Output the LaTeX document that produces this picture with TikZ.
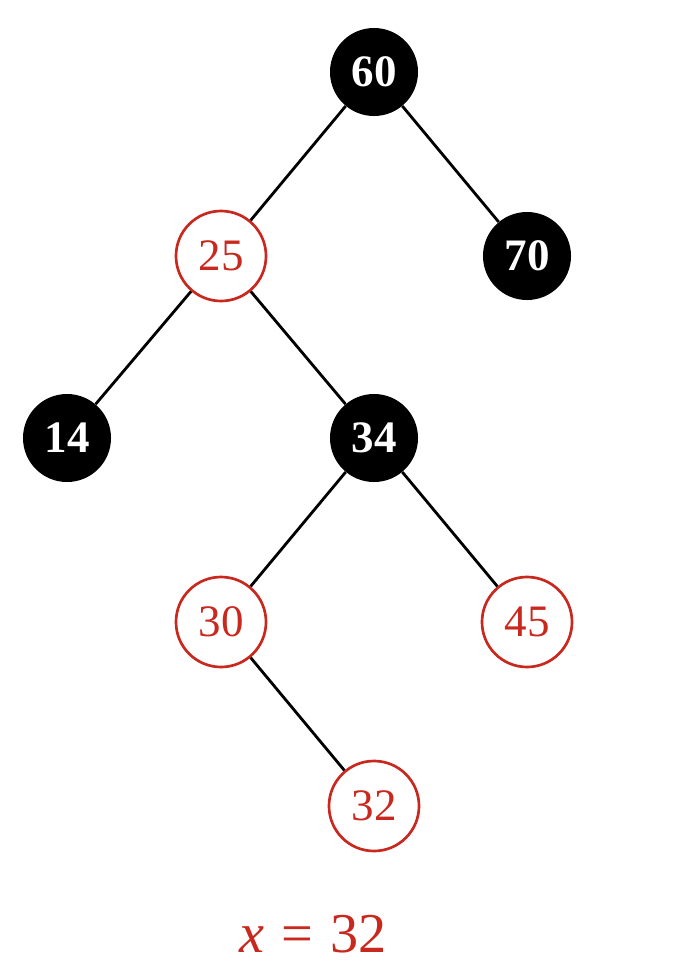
\documentclass[tikz,border=0pt]{standalone}
\usepackage{fontspec}
\setmainfont{Liberation Serif}
\usepackage{xcolor}
\usepackage{tikz}
\usetikzlibrary{positioning}
\definecolor{rbred}{RGB}{200,40,30}

\begin{document}
\begin{tikzpicture}[x=0.025cm, y=-0.025cm,
    blk/.style={circle, fill=black, text=white, minimum size=2.2cm, inner sep=0pt, font=\fontsize{32}{36}\selectfont\bfseries},
    red/.style={circle, draw=rbred, line width=1.9pt, text=rbred, minimum size=2.25cm, inner sep=0pt, font=\fontsize{32}{36}\selectfont},
    edge/.style={line width=2pt}]
        \useasboundingbox (0,0) rectangle (674,980);
        % Nodes
        \node[blk] (N60) at (374,72) {60};
        \node[red] (N25) at (221,256) {25};
        \node[blk] (N70) at (527,256) {70};
        \node[blk] (N14) at (67,438) {14};
        \node[blk] (N34) at (374,438) {34};
        \node[red] (N30) at (221,622) {30};
        \node[red] (N45) at (527,622) {45};
        \node[red] (N32) at (374,806) {32};

        % Edges
        \draw[edge] (N60) -- (N25);
        \draw[edge] (N60) -- (N70);
        \draw[edge] (N25) -- (N14);
        \draw[edge] (N25) -- (N34);
        \draw[edge] (N34) -- (N30);
        \draw[edge] (N34) -- (N45);
        \draw[edge] (N30) -- (N32);

        % Labels
        \node[text=rbred, font=\fontsize{40}{44}\selectfont] (X) at (313,934) {\textit{x}\hspace{0.3em}=\hspace{0.3em}32};
    \end{tikzpicture}
\end{document}
